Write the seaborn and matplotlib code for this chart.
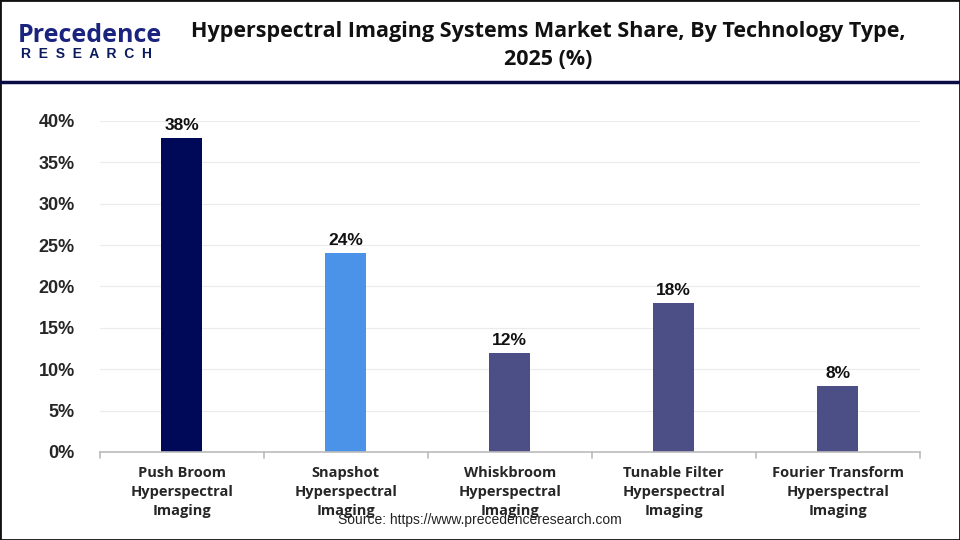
import matplotlib
matplotlib.use("Agg")
import matplotlib.pyplot as plt
import seaborn as sns
import pandas as pd
from matplotlib.lines import Line2D
from matplotlib.patches import Rectangle

# data
categories = [
    "Push Broom\nHyperspectral\nImaging",
    "Snapshot\nHyperspectral\nImaging",
    "Whiskbroom\nHyperspectral\nImaging",
    "Tunable Filter\nHyperspectral\nImaging",
    "Fourier Transform\nHyperspectral\nImaging",
]
shares = [38, 24, 12, 18, 8]
bar_colors = ["#000957", "#4A93E8", "#4B4F86", "#4B4F86", "#4B4F86"]
y_ticks = [0, 5, 10, 15, 20, 25, 30, 35, 40]

df = pd.DataFrame({"cat": categories, "share": shares})

sns.set_style("white")
plt.rcParams["font.family"] = ["Open Sans", "DejaVu Sans"]
arial = ["Liberation Sans", "DejaVu Sans"]

fig = plt.figure(figsize=(9.6, 5.4), dpi=100)
ax = fig.add_axes([0.104, 0.163, 0.854, 0.613])

sns.barplot(data=df, x="cat", y="share", hue="cat", palette=bar_colors,
            legend=False, width=0.25, saturation=1, linewidth=0, ax=ax)

for i, v in enumerate(shares):
    ax.text(i, v + 0.6, f"{v}%", ha="center", va="bottom", family=arial,
            fontsize=12.5, fontweight="bold", color="#111111")

ax.set_ylim(0, 40)
ax.set_xlim(-0.5, len(categories) - 0.5)
ax.set_yticks(y_ticks)
ax.set_yticklabels([f"{t}%" for t in y_ticks], fontsize=13, fontweight="bold",
                   family=arial)
ax.tick_params(axis="y", length=0, pad=18)
ax.set_xticks(range(len(categories)))
ax.set_xticklabels(categories, fontsize=10.5, fontweight="bold", linespacing=1.45)
ax.tick_params(axis="x", length=0, pad=10)
ax.set_xlabel("")
ax.set_ylabel("")
ax.grid(axis="y", color="#EBEBEB", lw=0.8)
ax.set_axisbelow(True)
for s in ["top", "right", "left"]:
    ax.spines[s].set_visible(False)
ax.spines["bottom"].set_color("#BBBBBB")
ax.spines["bottom"].set_linewidth(1.2)

# separators between categories
for b in [-0.5, 0.5, 1.5, 2.5, 3.5, 4.5]:
    ax.plot([b, b], [0, -0.018], transform=ax.get_xaxis_transform(),
            color="#BBBBBB", lw=1.2, clip_on=False)

# header
fig.text(0.571, 0.942, "Hyperspectral Imaging Systems Market Share, By Technology Type,",
         ha="center", va="center", fontsize=15.5, fontweight="bold", color="#111111")
fig.text(0.571, 0.89, "2025 (%)", ha="center", va="center",
         fontsize=15.5, fontweight="bold", color="#111111")
fig.add_artist(Line2D([0, 1], [0.848, 0.848], color="#0A0A45", lw=2.5))

# logo
fig.text(0.018, 0.935, "Precedence", ha="left", va="center", fontsize=18,
         color="#1A237E", fontweight="bold")
fig.text(0.022, 0.9, "R  E  S  E  A  R  C  H", ha="left", va="center", fontsize=10,
         color="#0B1A5E", fontweight="bold", family=arial)

fig.text(0.5, 0.037, "Source: https://www.precedenceresearch.com", ha="center",
         va="center", fontsize=10, color="#222222", family=arial)

fig.add_artist(Rectangle((0, 0), 1, 1, transform=fig.transFigure, fill=False,
                         edgecolor="#111111", lw=2))

fig.savefig("out.png", dpi=100)
